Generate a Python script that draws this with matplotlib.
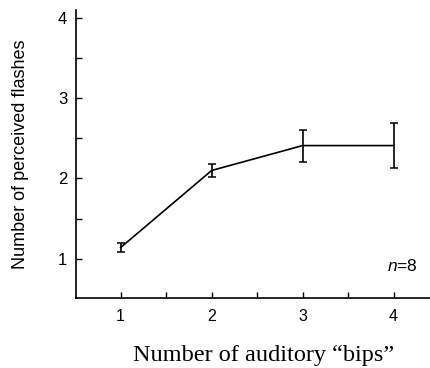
import matplotlib.pyplot as plt
from matplotlib.ticker import MultipleLocator

plt.rcParams['mathtext.fontset'] = 'custom'
plt.rcParams['mathtext.it'] = 'Liberation Sans:italic'
plt.rcParams['mathtext.rm'] = 'Liberation Sans'

# data
bips = [1, 2, 3, 4]
flashes = [1.14, 2.1, 2.41, 2.41]
sem = [0.06, 0.08, 0.2, 0.28]
n_subjects = 8

fig = plt.figure(figsize=(4.3, 3.68), dpi=100)
ax = fig.add_axes([0.177, 0.19, 0.823, 0.783])

ax.errorbar(bips, flashes, yerr=sem, color='black', lw=1.2,
            elinewidth=1.2, capsize=3, capthick=1.1)

# start just past 0.5 so no minor tick sits in the corner
ax.set_xlim(0.51, 4.4)
ax.set_ylim(0.51, 4.1)
ax.xaxis.set_major_locator(MultipleLocator(1))
ax.xaxis.set_minor_locator(MultipleLocator(0.5))
ax.yaxis.set_major_locator(MultipleLocator(1))
ax.yaxis.set_minor_locator(MultipleLocator(0.5))
ax.tick_params(which='both', direction='in', length=4, width=1, color='black')
ax.tick_params(axis='x', which='major', labelsize=11.5, pad=8)
ax.tick_params(axis='y', which='major', labelsize=12, pad=6.5)
for lab in ax.get_xticklabels() + ax.get_yticklabels():
    lab.set_family('Liberation Sans')

ax.spines['top'].set_visible(False)
ax.spines['right'].set_visible(False)
ax.spines['left'].set_linewidth(1.2)
ax.spines['bottom'].set_linewidth(1.2)

ax.set_ylabel('Number of perceived flashes', family='Liberation Sans',
              fontsize=13, va='center')
ax.yaxis.set_label_coords(-0.158, 0.5)
ax.set_xlabel('Number of auditory \u201cbips\u201d', family='Liberation Serif',
              fontsize=17.5, va='center')
ax.xaxis.set_label_coords(0.53, -0.198)

ax.text(4.26, 0.91, '$n$=%d' % n_subjects, family='Liberation Sans',
        fontsize=12.5, ha='right', va='center')

fig.savefig('out.png', dpi=100)
